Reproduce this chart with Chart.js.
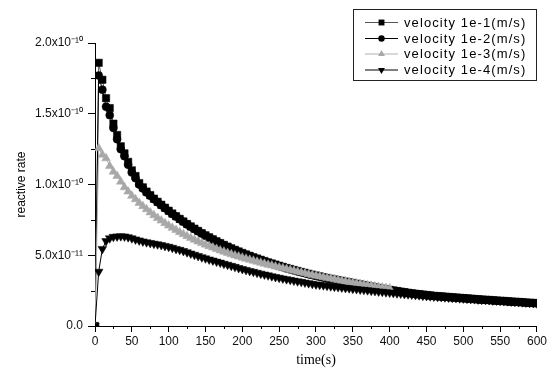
<!DOCTYPE html>
<html>
<head>
<meta charset="utf-8">
<script src="https://cdn.jsdelivr.net/npm/chart.js@4"></script>
<style>
  html, body { margin: 0; padding: 0; background: #fff; }
  #wrap { width: 549px; height: 369px; position: relative; }
</style>
</head>
<body>
<div id="wrap"><canvas id="c"></canvas></div>
<script>
// ── Data (reactive rate in units of 1e-11, sampled every 5 s) ──
const timeStep = 5;
const seriesNames = ['velocity 1e-1(m/s)', 'velocity 1e-2(m/s)', 'velocity 1e-3(m/s)', 'velocity 1e-4(m/s)'];

const rateV1 = [
  0, 18.6, 17.4, 16.1, 15.4, 14.3, 13.5, 12.7, 12.2, 11.6,
  11.0, 10.6, 10.1, 9.8, 9.5, 9.25, 9.0, 8.78, 8.57, 8.36,
  8.15, 7.95, 7.76, 7.57, 7.39, 7.21, 7.04, 6.88, 6.72, 6.56,
  6.41, 6.27, 6.13, 5.99, 5.86, 5.73, 5.61, 5.49, 5.38, 5.27,
  5.16, 5.06, 4.96, 4.86, 4.77, 4.68, 4.59, 4.5, 4.42, 4.34,
  4.26, 4.18, 4.1, 4.03, 3.96, 3.89, 3.82, 3.76, 3.69, 3.63,
  3.57, 3.51, 3.45, 3.39, 3.34, 3.29, 3.24, 3.19, 3.14, 3.09,
  3.04, 2.99, 2.94, 2.89, 2.84, 2.79, 2.74, 2.69, 2.64, 2.6,
  2.55, 2.51, 2.47, 2.43, 2.39, 2.35, 2.31, 2.28, 2.25, 2.22,
  2.19, 2.16, 2.13, 2.11, 2.09, 2.07, 2.05, 2.03, 2.01, 1.99,
  1.97, 1.95, 1.93, 1.91, 1.89, 1.87, 1.85, 1.84, 1.82, 1.8,
  1.78, 1.77, 1.75, 1.73, 1.71, 1.7, 1.68, 1.66, 1.64, 1.63,
  1.61
];
const rateV2 = [
  0, 17.7, 16.7, 15.5, 14.9, 14.0, 13.2, 12.5, 12.0, 11.4,
  10.85, 10.45, 10.0, 9.72, 9.44, 9.2, 8.96, 8.74, 8.53, 8.33,
  8.12, 7.92, 7.73, 7.54, 7.36, 7.18, 7.01, 6.85, 6.69, 6.53,
  6.38, 6.24, 6.1, 5.96, 5.83, 5.7, 5.58, 5.46, 5.35, 5.24,
  5.13, 5.03, 4.93, 4.83, 4.74, 4.65, 4.56, 4.47, 4.39, 4.31,
  4.23, 4.15, 4.07, 4.0, 3.93, 3.86, 3.79, 3.73, 3.66, 3.6,
  3.54, 3.48, 3.42, 3.36, 3.31, 3.26, 3.21, 3.16, 3.11, 3.06,
  3.01, 2.96, 2.92, 2.87, 2.82, 2.77, 2.73, 2.68, 2.64, 2.59,
  2.54, 2.5, 2.46, 2.42, 2.38, 2.34, 2.3, 2.27, 2.24, 2.21,
  2.18, 2.15, 2.12, 2.1, 2.08, 2.06, 2.04, 2.02, 2.0, 1.98,
  1.96, 1.94, 1.92, 1.9, 1.88, 1.86, 1.84, 1.83, 1.81, 1.79,
  1.77, 1.76, 1.74, 1.72, 1.7, 1.69, 1.67, 1.65, 1.63, 1.62,
  1.6
];
const rateV3 = [
  0, 12.56, 12.1, 11.85, 11.3, 10.9, 10.6, 10.2, 9.8, 9.5,
  9.2, 8.95, 8.7, 8.47, 8.25, 8.03, 7.83, 7.63, 7.45, 7.27,
  7.1, 6.94, 6.78, 6.63, 6.49, 6.35, 6.22, 6.09, 5.97, 5.86,
  5.75, 5.64, 5.54, 5.44, 5.34, 5.25, 5.16, 5.07, 4.99, 4.91,
  4.83, 4.75, 4.68, 4.61, 4.54, 4.47, 4.4, 4.33, 4.27, 4.2,
  4.14, 4.08, 4.02, 3.96, 3.9, 3.84, 3.78, 3.72, 3.66, 3.61,
  3.55, 3.5, 3.45, 3.4, 3.35, 3.3, 3.25, 3.2, 3.15, 3.1,
  3.05, 3.01, 2.97, 2.92, 2.88, 2.84, 2.8, 2.76, 2.72, 2.68,
  2.65
];
const rateV4 = [
  0, 3.84, 5.45, 6.0, 6.2, 6.3, 6.33, 6.35, 6.33, 6.28,
  6.2, 6.12, 6.05, 5.98, 5.92, 5.87, 5.82, 5.77, 5.72, 5.66,
  5.6, 5.53, 5.45, 5.38, 5.3, 5.21, 5.12, 5.03, 4.95, 4.86,
  4.78, 4.7, 4.63, 4.55, 4.48, 4.4, 4.33, 4.25, 4.18, 4.1,
  4.03, 3.96, 3.89, 3.83, 3.76, 3.7, 3.64, 3.58, 3.52, 3.46,
  3.41, 3.36, 3.31, 3.26, 3.21, 3.16, 3.12, 3.07, 3.03, 2.98,
  2.94, 2.91, 2.88, 2.84, 2.81, 2.78, 2.75, 2.72, 2.69, 2.67,
  2.64, 2.61, 2.58, 2.56, 2.53, 2.5, 2.47, 2.44, 2.42, 2.39,
  2.36, 2.34, 2.31, 2.29, 2.26, 2.24, 2.22, 2.19, 2.17, 2.14,
  2.12, 2.1, 2.08, 2.06, 2.05, 2.03, 2.01, 2.0, 1.98, 1.96,
  1.95, 1.93, 1.91, 1.9, 1.88, 1.86, 1.85, 1.83, 1.81, 1.8,
  1.78, 1.76, 1.75, 1.73, 1.71, 1.69, 1.68, 1.66, 1.64, 1.62,
  1.6
];

const yTickValues = [0, 5, 10, 15, 20];
const yTickLabels = ['0.0', '5.0x10\u207B\u00B9\u00B9', '1.0x10\u207B\u00B9\u2070', '1.5x10\u207B\u00B9\u2070', '2.0x10\u207B\u00B9\u2070'];

// ── Styling ───────────────────────────────────────────
const lineColors  = ['#555555', '#000000', '#b0b0b0', '#000000'];
const pointColors = ['#000000', '#000000', '#a8a8a8', '#000000'];
const pointStyles = ['rect', 'circle', 'triangle', 'triangle'];
const pointRadii  = [5.2, 4.0, 5.0, 5.0];
const pointRot    = [0, 0, 0, 180];
const drawOrder   = [4, 3, 2, 1];   // later series on top (like Origin)

const SANS = '"Liberation Sans", Arial, sans-serif';
const SERIF = '"Liberation Serif", "Times New Roman", serif';

function toPoints(vals) {
  return vals.map((v, i) => ({ x: i * timeStep, y: v }));
}

const allRates = [rateV1, rateV2, rateV3, rateV4];
const datasets = allRates.map((vals, i) => ({
  label: seriesNames[i],
  data: toPoints(vals),
  borderColor: lineColors[i],
  borderWidth: 1,
  pointStyle: pointStyles[i],
  pointRadius: pointRadii[i],
  pointRotation: pointRot[i],
  pointBackgroundColor: pointColors[i],
  pointBorderColor: pointColors[i],
  pointBorderWidth: 0.5,
  fill: false,
  tension: 0,
  order: drawOrder[i],
}));

// minor ticks (half-way between majors), drawn outward
const minorTicks = {
  id: 'minorTicks',
  afterDraw(chart) {
    const { ctx, scales: { x, y } } = chart;
    ctx.save();
    ctx.strokeStyle = '#000';
    ctx.lineWidth = 1;
    ctx.beginPath();
    for (let v = 25; v < 600; v += 50) {
      const px = Math.round(x.getPixelForValue(v)) + 0.5;
      ctx.moveTo(px, y.bottom);
      ctx.lineTo(px, y.bottom + 3);
    }
    for (let v = 2.5; v < 20; v += 5) {
      const py = Math.round(y.getPixelForValue(v)) + 0.5;
      ctx.moveTo(x.left, py);
      ctx.lineTo(x.left - 4, py);
    }
    ctx.stroke();
    ctx.restore();
  }
};

// Origin-style boxed legend: line-marker-line + label
const boxLegend = {
  id: 'boxLegend',
  afterDraw(chart) {
    const ctx = chart.ctx;
    const bx = 353.5, by = 9.5, bw = 183, bh = 71;
    ctx.save();
    ctx.strokeStyle = '#222';
    ctx.lineWidth = 1;
    ctx.strokeRect(bx, by, bw, bh);
    ctx.font = '13px ' + SANS;
    ctx.textBaseline = 'middle';
    ctx.fillStyle = '#000';
    if ('letterSpacing' in ctx) ctx.letterSpacing = '1.1px';
    const rowY = [22.5, 38.5, 54, 70];
    seriesNames.forEach((name, i) => {
      const yy = rowY[i];
      ctx.strokeStyle = lineColors[i];
      ctx.beginPath();
      ctx.moveTo(365, yy);
      ctx.lineTo(398, yy);
      ctx.stroke();
      ctx.fillStyle = pointColors[i];
      Chart.helpers.drawPoint(ctx, {
        pointStyle: pointStyles[i],
        rotation: pointRot[i],
        radius: pointRadii[i] * 0.8,
        borderWidth: 0
      }, 381.5, yy);
      ctx.fillStyle = '#000';
      ctx.fillText(name, 404, yy + 0.5);
    });
    ctx.restore();
  }
};

new Chart(document.getElementById('c'), {
  type: 'line',
  data: { datasets },
  options: {
    responsive: true,
    maintainAspectRatio: false,
    animation: false,
    events: [],
    layout: { padding: { top: 43, right: 12, left: 0, bottom: 0 } },
    plugins: {
      legend: { display: false },
      tooltip: { enabled: false },
    },
    scales: {
      x: {
        type: 'linear',
        min: 0, max: 600,
        afterFit(s) { s.height = 43; },
        border: { display: true, color: '#000', width: 1 },
        grid: { drawOnChartArea: false, color: '#000', tickLength: 6, tickColor: '#000' },
        ticks: { stepSize: 50, color: '#111', padding: 2, maxRotation: 0, font: { family: SANS, size: 12 } },
        title: { display: true, text: 'time(s)', color: '#000', font: { family: SERIF, size: 14 }, padding: { top: 0, bottom: 0 } },
      },
      y: {
        type: 'linear',
        min: 0, max: 20,
        afterFit(s) { s.width = 95; },
        afterBuildTicks(s) { s.ticks = yTickValues.map(v => ({ value: v })); },
        border: { display: true, color: '#000', width: 1 },
        grid: { drawOnChartArea: false, color: '#000', tickLength: 7, tickColor: '#000' },
        ticks: {
          color: '#111', padding: 5, font: { family: SANS, size: 12 },
          callback: (v) => {
            const k = yTickValues.indexOf(v);
            return k >= 0 ? yTickLabels[k] : '';
          }
        },
        title: { display: true, text: 'reactive rate', color: '#000', font: { family: SANS, size: 12 }, padding: { top: 14, bottom: 0 } },
      },
    },
  },
  plugins: [minorTicks, boxLegend],
});
</script>
</body>
</html>
